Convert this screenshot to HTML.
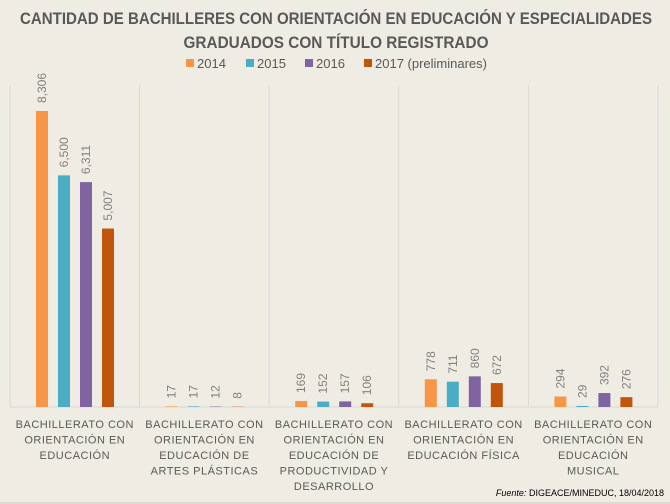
<!DOCTYPE html>
<html><head><meta charset="utf-8"><style>
html,body{margin:0;padding:0;background:#efece3;}
svg{display:block;font-family:"Liberation Sans",sans-serif;}
</style></head><body>
<svg id="chart" width="670" height="504" viewBox="0 0 670 504" xmlns="http://www.w3.org/2000/svg">
<rect x="0" y="0" width="670" height="504" fill="#efece3"/>
<text x="336" y="24" text-anchor="middle" font-size="17" font-weight="bold" fill="#595959" textLength="632" lengthAdjust="spacingAndGlyphs">CANTIDAD DE BACHILLERES CON ORIENTACIÓN EN EDUCACIÓN Y ESPECIALIDADES</text>
<text x="336" y="48" text-anchor="middle" font-size="17" font-weight="bold" fill="#595959" textLength="305" lengthAdjust="spacingAndGlyphs">GRADUADOS CON TÍTULO REGISTRADO</text>
<g id="legend"></g>
<g id="grid"></g>
<g id="bars"></g>
<g id="cats"></g>
<text x="664" y="496" text-anchor="end" font-size="9" fill="#000"><tspan font-style="italic">Fuente:</tspan> DIGEACE/MINEDUC, 18/04/2018</text>
<line x1="0" y1="503" x2="670" y2="503" stroke="#c8c6c0"/>
</svg>
<script>
const categories = [
 ["BACHILLERATO CON","ORIENTACIÓN EN","EDUCACIÓN"],
 ["BACHILLERATO CON","ORIENTACIÓN EN","EDUCACIÓN DE","ARTES PLÁSTICAS"],
 ["BACHILLERATO CON","ORIENTACIÓN EN","EDUCACIÓN DE","PRODUCTIVIDAD Y","DESARROLLO"],
 ["BACHILLERATO CON","ORIENTACIÓN EN","EDUCACIÓN FÍSICA"],
 ["BACHILLERATO CON","ORIENTACIÓN EN","EDUCACIÓN","MUSICAL"]
];
const seriesNames = ["2014","2015","2016","2017 (preliminares)"];
const s2014 = [8306,17,169,778,294];
const s2015 = [6500,17,152,711,29];
const s2016 = [6311,12,157,860,392];
const s2017 = [5007,8,106,672,276];
const series = [s2014,s2015,s2016,s2017];
const colors = ["#f79646","#4bacc6","#8064a2","#c0560b"];
const NS="http://www.w3.org/2000/svg";
function mk(t,a,p){const e=document.createElementNS(NS,t);for(const k in a)e.setAttribute(k,a[k]);p.appendChild(e);return e;}
const x0=10,x1=658,yBase=407,yTop=85,maxV=8306;
const colW=(x1-x0)/categories.length;
function y(v){return yBase-v*(296/maxV);}
function xBar(ci,si){return x0+colW*ci+26+si*22;}
const grid=document.getElementById('grid');
for(let i=0;i<=categories.length;i++){
 const gx=x0+colW*i;
 const l=mk('line',{x1:gx,y1:yTop,x2:gx,y2:yBase,stroke:'#d9d9d9'},grid);
 
 
}
const base=mk('line',{x1:x0,y1:yBase,x2:x1,y2:yBase,stroke:'#d9d9d9'},grid);


const bars=document.getElementById('bars');
series.forEach((s,si)=>{s.forEach((v,ci)=>{
 const bx=xBar(ci,si),by=y(v);
 const r=mk('rect',{x:bx,y:by,width:12,height:yBase-by,fill:colors[si]},bars);
 
 
 const lx=bx+10,ly=by-8;
 const t=mk('text',{x:lx,y:ly,transform:`rotate(-90 ${lx} ${ly})`,'font-size':12,fill:'#808080'},bars);
 t.textContent=v.toLocaleString('en-US');
 
 
});});
const cats=document.getElementById('cats');
categories.forEach((lines,ci)=>{
 const cx=x0+colW*(ci+0.5);
 lines.forEach((ln,li)=>{
  const t=mk('text',{x:cx,y:428+li*15.5,'text-anchor':'middle','font-size':11,'letter-spacing':'0.5',fill:'#595959'},cats);
  t.textContent=ln;
  
  
 });
});
const legend=document.getElementById('legend');
const lx=[186,246,305,364];
seriesNames.forEach((n,i)=>{
 const r=mk('rect',{x:lx[i],y:59,width:8,height:8,fill:colors[i]},legend);
 
 
 const t=mk('text',{x:lx[i]+11,y:68,'font-size':13,fill:'#595959'},legend);
 t.textContent=n;
 
 
});
</script>
</body></html>
